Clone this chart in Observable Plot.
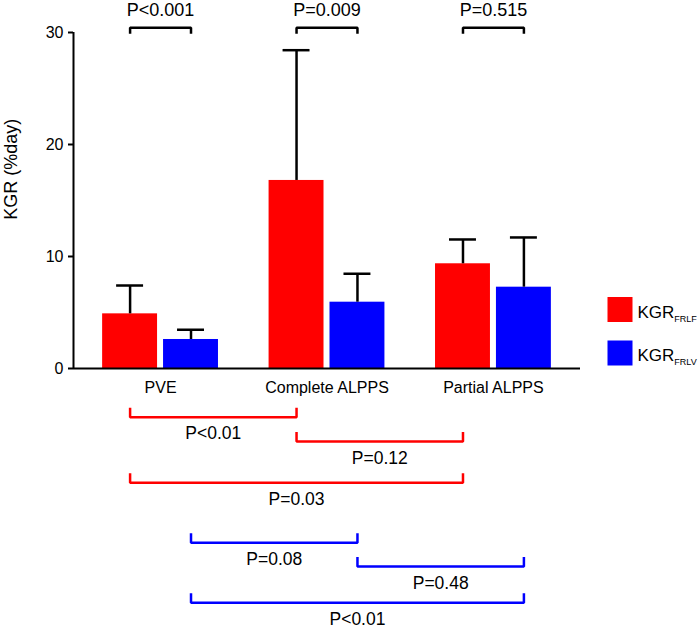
<!DOCTYPE html>
<html>
<head>
<meta charset="utf-8">
<script src="https://cdn.jsdelivr.net/npm/d3@7"></script>
<script src="https://cdn.jsdelivr.net/npm/@observablehq/plot@0.6"></script>
<style>
  html, body { margin: 0; padding: 0; background: #fff; }
  #wrap { position: relative; width: 698px; height: 629px; font-family: "Liberation Sans", Arial, Helvetica, sans-serif; }
  #wrap svg { display: block; }
  .main [aria-label^="y-axis"] path, .main [aria-label^="y-axis"] line { stroke-width: 2; }
</style>
</head>
<body>
<div id="wrap"></div>
<script>
// ---------- data ----------
const groups = ["PVE", "Complete ALPPS", "Partial ALPPS"];
const seriesNames = ["FRLF", "FRLV"];
const frlfMean = [4.88, 16.79, 9.35];
const frlfSD   = [2.53, 11.63, 2.17];
const frlvMean = [2.59, 5.92, 7.26];
const frlvSD   = [0.87, 2.54, 4.44];
const withinP  = ["P<0.001", "P=0.009", "P=0.515"];
const pairs    = [[0, 1], [1, 2], [0, 2]];
const frlfP    = ["P<0.01", "P=0.12", "P=0.03"];
const frlvP    = ["P=0.08", "P=0.48", "P<0.01"];
const yTicks   = [0, 10, 20, 30];
const yLabel   = "KGR (%day)";

// ---------- layout ----------
const FONT = "Liberation Sans, Arial, Helvetica, sans-serif";
const X0 = -0.523, X1 = 2.523;
const barW = 0.33, gap = 0.018, capHalf = 0.081;
const colors = {FRLF: "#ff0000", FRLV: "#0000ff"};
const offset = {FRLF: -(gap + barW / 2), FRLV: gap + barW / 2};
const W = 698, mainH = 400, bottomH = 229;
const margins = {marginLeft: 73, marginRight: 118};

const means = {FRLF: frlfMean, FRLV: frlvMean};
const sds = {FRLF: frlfSD, FRLV: frlvSD};
const bars = groups.flatMap((g, i) => seriesNames.map(s => ({
  g, i, s, mean: means[s][i], upper: means[s][i] + sds[s][i], cx: i + offset[s]
})));

// top within-group brackets
const topLineY = 30.42, topTickY = 29.88, topLabelY = 31.96;
const topPts = groups.flatMap((g, i) => {
  const a = i + offset.FRLF, b = i + offset.FRLV;
  return [[a, topTickY], [a, topLineY], [b, topLineY], [b, topTickY]].map(([x, y]) => ({id: i, x, y}));
});

const main = Plot.plot({
  width: W, height: mainH, ...margins, marginTop: 32, marginBottom: 32,
  className: "main",
  style: {fontFamily: FONT, fontSize: "16px", background: "transparent", overflow: "visible", color: "#000"},
  x: {domain: [X0, X1], axis: null},
  y: {domain: [0, 30], ticks: yTicks, tickSize: 5, tickPadding: 5, label: null},
  marks: [
    Plot.rect(bars, {x1: d => d.cx - barW / 2, x2: d => d.cx + barW / 2, y1: 0, y2: "mean",
      fill: d => colors[d.s]}),
    Plot.ruleX(bars, {x: "cx", y1: "mean", y2: "upper", stroke: "#000", strokeWidth: 2.5}),
    Plot.ruleY(bars, {y: "upper", x1: d => d.cx - capHalf, x2: d => d.cx + capHalf, stroke: "#000", strokeWidth: 2.5}),
    Plot.ruleX([X0], {y1: 0, y2: 30, stroke: "#000", strokeWidth: 2}),
    Plot.ruleY([0], {x1: X0, x2: X1, stroke: "#000", strokeWidth: 2}),
    Plot.text(groups, {x: (d, i) => i, y: 0, dy: 19, text: d => d, fontSize: 16, lineAnchor: "middle", fill: "#000"}),
    Plot.line(topPts, {x: "x", y: "y", z: "id", stroke: "#000", strokeWidth: 2.5, strokeLinejoin: "miter", strokeLinecap: "butt"}),
    Plot.text(withinP, {x: (d, i) => i, y: topLabelY, text: d => d, fontSize: 18, lineAnchor: "middle", fill: "#000"}),
    Plot.text([yLabel], {x: X0, y: 17.8, text: d => d, dx: -62.5, rotate: -90, fontSize: 18, lineAnchor: "middle", fill: "#000"})
  ]
});

// bottom between-group brackets
const tierY = {FRLF: [16.7, 41, 82.3], FRLV: [142.3, 166, 202.3]};
const tickH = 9.5, labelDy = 16.5;
function bracketPts(s) {
  return pairs.flatMap(([a, b], k) => {
    const xa = a + offset[s], xb = b + offset[s], y = tierY[s][k];
    return [[xa, y - tickH], [xa, y], [xb, y], [xb, y - tickH]].map(([x, yy]) => ({id: k, x, y: yy}));
  });
}
function bracketLabels(s, labels) {
  return pairs.map(([a, b], k) => ({x: (a + b) / 2 + offset[s], y: tierY[s][k], text: labels[k]}));
}
const bottom = Plot.plot({
  width: W, height: bottomH, ...margins, marginTop: 0, marginBottom: 0,
  style: {fontFamily: FONT, background: "transparent", overflow: "visible", color: "#000"},
  x: {domain: [X0, X1], axis: null},
  y: {domain: [0, bottomH], range: [0, bottomH], axis: null},
  marks: seriesNames.flatMap(s => [
    Plot.line(bracketPts(s), {x: "x", y: "y", z: "id", stroke: colors[s], strokeWidth: 2.5, strokeLinejoin: "miter", strokeLinecap: "butt"}),
    Plot.text(bracketLabels(s, s === "FRLF" ? frlfP : frlvP), {x: "x", y: "y", text: "text", dy: labelDy, fontSize: 17.5, lineAnchor: "middle", fill: "#000"})
  ])
});

const wrap = document.getElementById("wrap");
wrap.appendChild(main);
wrap.appendChild(bottom);

// legend
const ns = "http://www.w3.org/2000/svg";
const leg = document.createElementNS(ns, "svg");
leg.setAttribute("width", W); leg.setAttribute("height", 629);
leg.style.position = "absolute"; leg.style.left = "0"; leg.style.top = "0"; leg.style.pointerEvents = "none";
seriesNames.forEach((s, k) => {
  const top = 297 + k * 43.5;
  const r = document.createElementNS(ns, "rect");
  r.setAttribute("x", 607.5); r.setAttribute("y", top); r.setAttribute("width", 25); r.setAttribute("height", 25);
  r.setAttribute("fill", colors[s]);
  leg.appendChild(r);
  const t = document.createElementNS(ns, "text");
  t.setAttribute("x", 637.5); t.setAttribute("y", top + 20.5);
  t.setAttribute("font-family", FONT); t.setAttribute("font-size", 17);
  t.appendChild(document.createTextNode("KGR"));
  const sub = document.createElementNS(ns, "tspan");
  sub.setAttribute("font-size", 9); sub.setAttribute("dy", 4);
  sub.textContent = s;
  t.appendChild(sub);
  leg.appendChild(t);
});
wrap.appendChild(leg);
</script>
</body>
</html>
